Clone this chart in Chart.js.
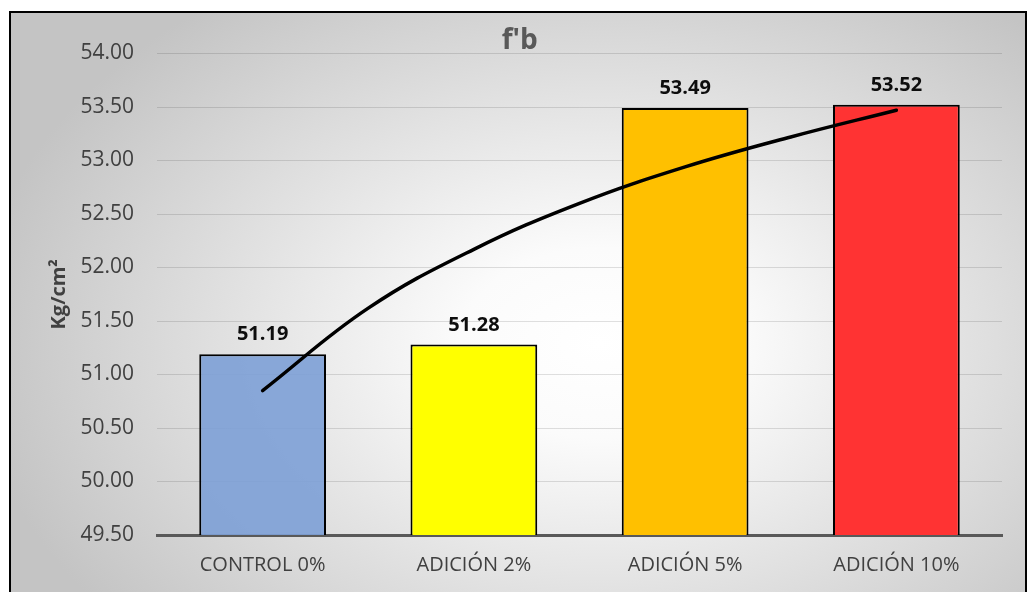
<!DOCTYPE html>
<html>
<head>
<meta charset="utf-8">
<script src="https://cdn.jsdelivr.net/npm/chart.js@4.4.1/dist/chart.umd.min.js"></script>
<style>
  html, body { margin: 0; padding: 0; background: #ffffff; overflow: hidden; }
  #frame {
    position: absolute; left: 9px; top: 11px; width: 1014px; height: 600px;
    border-left: 2px solid #000; border-top: 2px solid #000; border-right: 2px solid #000;
    background: radial-gradient(ellipse 62% 72% at 58% 55%, #ffffff 0%, #fbfbfb 22%, #c4c4c4 100%);
  }
  #c { position: absolute; left: 0; top: 0; }
</style>
</head>
<body>
<div id="frame"></div>
<canvas id="c" width="1027" height="592"></canvas>
<script>
// Compressive strength f'b per mix
const categories = ['CONTROL 0%', 'ADICIÓN 2%', 'ADICIÓN 5%', 'ADICIÓN 10%'];
const values = [51.19, 51.28, 53.49, 53.52];
const barColors = ['rgba(125,160,214,0.9)', '#FFFF00', '#FFC000', '#FF3333'];

// Logarithmic trend curve, sampled along the category axis (0 = first bar)
const trendX = [0, 0.5, 1, 1.5, 2, 2.5, 3];
const trendY = [50.85, 51.62, 52.17, 52.60, 52.94, 53.22, 53.47];

// Y axis ticks
const yMin = 49.5, yMax = 54.0, yStep = 0.5;

const chartTitle = "f'b";
const FONT = "'Open Sans', 'DejaVu Sans', sans-serif";

// Bar value labels and chart title
const annotations = {
  id: 'annotations',
  afterDatasetsDraw(chart) {
    const ctx = chart.ctx;
    const meta = chart.getDatasetMeta(0);
    ctx.save();
    ctx.font = 'bold 20px ' + FONT;
    ctx.fillStyle = '#0d0d0d';
    ctx.textAlign = 'center';
    ctx.textBaseline = 'alphabetic';
    meta.data.forEach((bar, i) => {
      ctx.fillText(values[i].toFixed(2), bar.x, bar.y - 14);
    });
    ctx.font = 'bold 28px ' + FONT;
    ctx.fillStyle = '#595959';
    ctx.fillText(chartTitle, chart.width * 0.506, 49);
    ctx.restore();
  }
};

new Chart(document.getElementById('c'), {
  type: 'bar',
  data: {
    labels: categories,
    datasets: [
      {
        label: chartTitle,
        data: values,
        backgroundColor: barColors,
        borderColor: '#000000',
        borderWidth: 2,
        grouped: false,
        barPercentage: 0.6,
        categoryPercentage: 1.0,
        order: 2
      },
      {
        type: 'line',
        label: 'Tendencia',
        data: trendX.map((x, i) => ({ x: x, y: trendY[i] })),
        xAxisID: 'xt',
        yAxisID: 'y',
        borderColor: '#000000',
        borderWidth: 3.5,
        borderCapStyle: 'round',
        pointRadius: 0,
        tension: 0.4,
        order: 1
      }
    ]
  },
  options: {
    responsive: false,
    devicePixelRatio: 1,
    animation: false,
    layout: { padding: { left: 0, right: 25, top: 53.5, bottom: 0 } },
    plugins: {
      legend: { display: false },
      tooltip: { enabled: false },
      title: { display: false }
    },
    scales: {
      x: {
        type: 'category',
        z: 1,
        grid: { display: false, drawTicks: false },
        border: { display: true, color: '#595959', width: 3 },
        ticks: { color: '#404040', font: { family: FONT, size: 20 }, padding: 18, maxRotation: 0 },
        afterFit(scale) { scale.height = 57; }
      },
      xt: {
        type: 'linear',
        display: false,
        offset: false,
        min: -0.5,
        max: 3.5
      },
      y: {
        min: yMin,
        max: yMax,
        grid: { color: 'rgba(0,0,0,0.12)', lineWidth: 1, drawTicks: false },
        border: { display: false },
        ticks: {
          stepSize: yStep,
          color: '#404040',
          font: { family: FONT, size: 21 },
          padding: 23,
          callback: v => Number(v).toFixed(2)
        },
        title: {
          display: true,
          text: 'Kg/cm²',
          color: '#404040',
          font: { family: FONT, size: 20, weight: 'bold' },
          padding: { top: 47, bottom: 0 }
        },
        afterFit(scale) { scale.width = 157; }
      }
    }
  },
  plugins: [annotations]
});
</script>
</body>
</html>
